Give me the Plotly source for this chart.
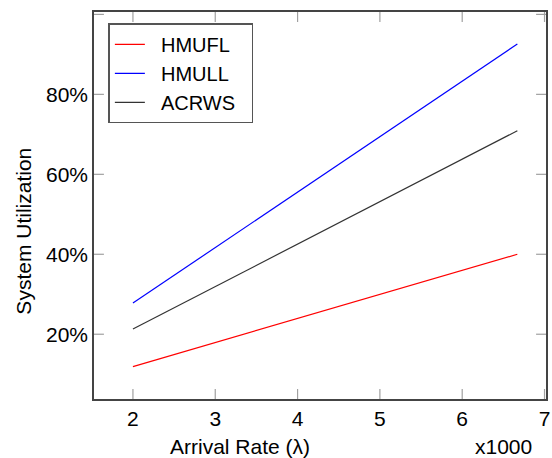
import plotly.graph_objects as go

# Data (arrival rate in thousands, utilization in %)
arrival_rate = [2.0, 6.67]
hmufl = [11.9, 40.0]
hmull = [27.8, 92.6]
acrws = [21.3, 70.9]

series_names = ["HMUFL", "HMULL", "ACRWS"]
series_values = [hmufl, hmull, acrws]
series_colors = ["#ff0000", "#0000ff", "#333333"]

x_ticks = [2, 3, 4, 5, 6, 7]
x_labels = ["2", "3", "4", "5", "6", "7"]
y_ticks = [20, 40, 60, 80, 100]
y_labels = ["20%", "40%", "60%", "80%", ""]

FONT = "Liberation Sans, Arial, sans-serif"
NB = "\u00a0"
TICK_COLOR = "#a0a0a0"
TICK_LEN = 10

W, H = 552, 458
L, R, T, B = 94, 2, 12, 59
pw, ph = W - L - R, H - T - B
XR = [1.527, 7.018]
YR = [3.8, 100.6]

def px_x(px):
    return (px - L) / pw

def px_y(py):
    return (H - B - py) / ph

fig = go.Figure()

# inside tick marks on all four sides, built from the tick arrays
dx = TICK_LEN * (XR[1] - XR[0]) / pw
dy = TICK_LEN * (YR[1] - YR[0]) / ph
tx, ty = [], []
for tv in x_ticks:
    tx += [tv, tv, None, tv, tv, None]
    ty += [YR[0], YR[0] + dy, None, YR[1], YR[1] - dy, None]
for tv in y_ticks:
    tx += [XR[0], XR[0] + dx, None, XR[1], XR[1] - dx, None]
    ty += [tv, tv, None, tv, tv, None]
fig.add_trace(go.Scatter(x=tx, y=ty, mode="lines", showlegend=False,
                         hoverinfo="skip", cliponaxis=False,
                         line=dict(color=TICK_COLOR, width=1.2)))

for name, vals, col in zip(series_names, series_values, series_colors):
    fig.add_trace(go.Scatter(x=arrival_rate, y=vals, mode="lines",
                             name=NB * 2 + name + NB * 2,
                             line=dict(color=col, width=1.2)))

axis_common = dict(
    showgrid=False, zeroline=False,
    showline=True, linecolor="#444444", linewidth=1.5, mirror=True,
    ticks="", tickfont=dict(family=FONT, size=21, color="black"),
    ticklabeloverflow="allow",
)

fig.update_layout(
    width=W, height=H,
    margin=dict(l=L, r=R, t=T, b=B),
    paper_bgcolor="white", plot_bgcolor="white",
    font=dict(family=FONT, color="black"),
    xaxis=dict(range=XR, tickmode="array", tickvals=x_ticks,
               ticktext=x_labels, **axis_common),
    yaxis=dict(range=YR, tickmode="array", tickvals=y_ticks,
               ticktext=y_labels, ticklabelstandoff=0, **axis_common),
    showlegend=True,
    legend=dict(x=px_x(108.5), y=px_y(23.3), xanchor="left", yanchor="top",
                bordercolor="#555555", borderwidth=1.5, bgcolor="white",
                font=dict(family=FONT, size=20, color="black")),
    annotations=[
        dict(text="System Utilization", xref="paper", yref="paper",
             x=px_x(22.5), y=px_y(231.5), xanchor="center", yanchor="middle",
             textangle=-90, showarrow=False,
             font=dict(family=FONT, size=21, color="black")),
        dict(text="Arrival Rate (λ)", xref="paper", yref="paper",
             x=px_x(241.5), y=px_y(433), xanchor="center", yanchor="top",
             showarrow=False, font=dict(family=FONT, size=21, color="black")),
        dict(text="x1000", xref="paper", yref="paper",
             x=px_x(507), y=px_y(433), xanchor="center", yanchor="top",
             showarrow=False, font=dict(family=FONT, size=21, color="black")),
    ],
)

fig.write_html("out.html", config={"displayModeBar": False},
               post_script="document.body.style.margin='0';document.body.style.padding='0';")
